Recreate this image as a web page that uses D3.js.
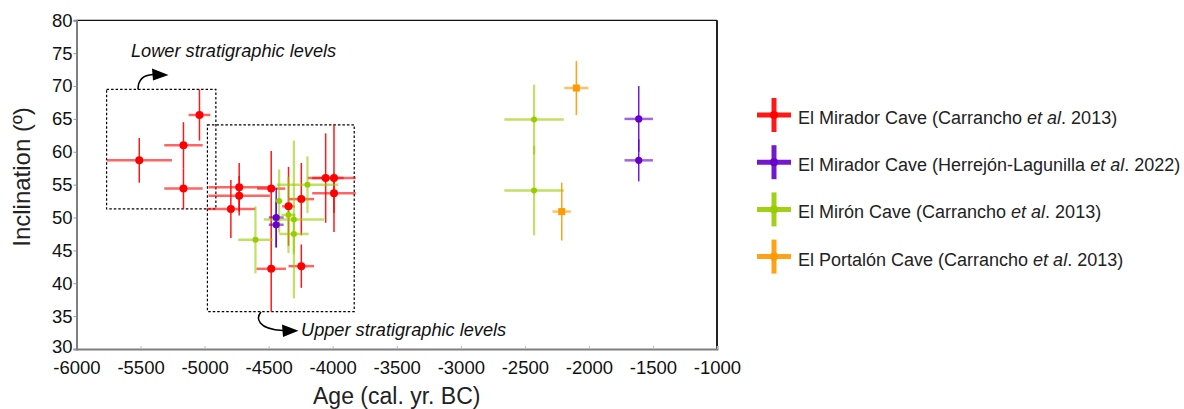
<!DOCTYPE html>
<html>
<head>
<meta charset="utf-8">
<script src="https://cdn.jsdelivr.net/npm/d3@7"></script>
<style>
body { margin:0; background:#fff; }
svg { font-family: "Liberation Sans", Arial, sans-serif; }
</style>
</head>
<body>
<svg id="chart"></svg>
<script>
// each row: [age, ageErr, inclination, inclinationErr]
var miradorCarrancho = [
    [-5510, 255, 58.7, 3.4],
    [-5040, 85, 65.6, 3.9],
    [-5165, 150, 61.0, 3.5],
    [-5165, 150, 54.4, 3.1],
    [-4730, 240, 54.6, 3.7],
    [-4730, 240, 53.3, 3.0],
    [-4795, 190, 51.3, 4.4],
    [-4480, 110, 54.4, 5.7],
    [-4480, 115, 42.2, 6.5],
    [-4345, 50, 51.7, 6.0],
    [-4245, 100, 52.8, 5.5],
    [-4245, 100, 42.6, 3.3],
    [-4055, 140, 56.0, 6.8],
    [-3990, 170, 56.0, 8.2],
    [-3990, 170, 53.7, 3.0]
];
var miradorHerrejon = [
    [-1611, 111, 65.0, 5.0],
    [-1611, 111, 58.7, 3.2],
    [-4441, 58, 50.0, 4.5],
    [-4441, 58, 48.9, 3.5]
];
var mironCarrancho = [
    [-4197, 240, 55.0, 4.3],
    [-4418, 25, 52.5, 4.8],
    [-4345, 55, 50.4, 5.8],
    [-4303, 235, 49.7, 12.0],
    [-4303, 115, 47.5, 3.0],
    [-4603, 135, 46.6, 5.1],
    [-2428, 232, 64.9, 5.3],
    [-2428, 232, 54.1, 6.8]
];
var portalonCarrancho = [
    [-2098, 95, 69.7, 4.1],
    [-2212, 72, 50.9, 4.4]
];

var seriesNames = [
    ["El Mirador Cave (Carrancho ", "et al", ". 2013)"],
    ["El Mirador Cave (Herrejón-Lagunilla ", "et al", ". 2022)"],
    ["El Mirón Cave (Carrancho ", "et al", ". 2013)"],
    ["El Portalón Cave (Carrancho ", "et al", ". 2013)"]
];
var seriesColors = ["#ff0000", "#6600cc", "#99cc00", "#ff9900"];
var seriesData = [miradorCarrancho, miradorHerrejon, mironCarrancho, portalonCarrancho];

var xTicks = [-6000, -5500, -5000, -4500, -4000, -3500, -3000, -2500, -2000, -1500, -1000];
var yTicks = [30, 35, 40, 45, 50, 55, 60, 65, 70, 75, 80];

// dashed boxes: [ageMin, ageMax, incMin, incMax]
var lowerBox = [-5765, -4912, 51.3, 69.5];
var upperBox = [-4978, -3832, 35.7, 64.1];

var width = 1184, height = 409;
var svg = d3.select("#chart").attr("width", width).attr("height", height);

var xScale = d3.scaleLinear().domain([-6000, -1000]).range([76.5, 717]);
var yScale = d3.scaleLinear().domain([30, 80]).range([349, 20.3]);

// frame
svg.append("line")
    .attr("x1", xScale(-6000)).attr("x2", xScale(-1000))
    .attr("y1", yScale(80)).attr("y2", yScale(80))
    .attr("stroke", "#111").attr("stroke-width", 1.2);
svg.append("line")
    .attr("x1", xScale(-1000)).attr("x2", xScale(-1000))
    .attr("y1", yScale(80)).attr("y2", yScale(30))
    .attr("stroke", "#222").attr("stroke-width", 2);

var plainFormat = function(d) { return String(d); };

var xAxis = svg.append("g")
    .attr("transform", "translate(0," + yScale(30) + ")")
    .call(d3.axisBottom(xScale).tickValues(xTicks).tickSize(-3).tickPadding(12).tickFormat(plainFormat));
xAxis.select(".domain").attr("stroke", "#7f7f7f").attr("stroke-width", 2);
xAxis.selectAll(".tick line").attr("stroke", "#bbb");
xAxis.selectAll("text").attr("font-size", 18.5).attr("fill", "#111")
    .attr("font-family", "Liberation Sans, Arial, sans-serif");

var yAxis = svg.append("g")
    .attr("transform", "translate(" + xScale(-6000) + ",0)")
    .call(d3.axisLeft(yScale).tickValues(yTicks).tickSize(3).tickPadding(1).tickFormat(plainFormat));
yAxis.select(".domain").attr("stroke", "#7f7f7f").attr("stroke-width", 2);
yAxis.selectAll(".tick line").attr("stroke", "#999");
yAxis.selectAll("text").attr("font-size", 18.5).attr("fill", "#111")
    .attr("font-family", "Liberation Sans, Arial, sans-serif");
// lift the lowest label a little so it clears the -6000 below it
yAxis.selectAll(".tick").filter(function(d) { return d == 30; })
    .select("text").attr("dy", "0.2em");

// axis titles
svg.append("text")
    .text("Age (cal. yr. BC)")
    .attr("x", (xScale(-6000) + xScale(-1000)) / 2)
    .attr("y", 404)
    .attr("text-anchor", "middle")
    .attr("font-size", 23)
    .attr("fill", "#222");

svg.append("text")
    .text("Inclination (º)")
    .attr("transform", "translate(30,177) rotate(-90)")
    .attr("text-anchor", "middle")
    .attr("font-size", 24)
    .attr("fill", "#222");

// dashed boxes
[lowerBox, upperBox].forEach(function(b) {
    svg.append("rect")
        .attr("x", xScale(b[0]))
        .attr("y", yScale(b[3]))
        .attr("width", xScale(b[1]) - xScale(b[0]))
        .attr("height", yScale(b[2]) - yScale(b[3]))
        .attr("fill", "none")
        .attr("stroke", "#000")
        .attr("stroke-width", 1.2)
        .attr("stroke-dasharray", "2.5,2");
});

// error bars and points
var plot = svg.append("g");
seriesData.forEach(function(data, i) {
    var color = seriesColors[i];
    var g = plot.append("g");
    g.selectAll(".hbar").data(data).enter().append("line")
        .attr("x1", function(d) { return xScale(d[0] - d[1]); })
        .attr("x2", function(d) { return xScale(d[0] + d[1]); })
        .attr("y1", function(d) { return yScale(d[2]); })
        .attr("y2", function(d) { return yScale(d[2]); })
        .attr("stroke", color).attr("stroke-width", 2.5).attr("opacity", 0.6);
    g.selectAll(".vbar").data(data).enter().append("line")
        .attr("x1", function(d) { return xScale(d[0]); })
        .attr("x2", function(d) { return xScale(d[0]); })
        .attr("y1", function(d) { return yScale(d[2] - d[3]); })
        .attr("y2", function(d) { return yScale(d[2] + d[3]); })
        .attr("stroke", color).attr("stroke-width", i == 2 ? 2.2 : 1.5)
        .attr("opacity", i == 2 ? 0.6 : 0.9);
});
seriesData.forEach(function(data, i) {
    var color = seriesColors[i];
    if (i == 3) {
        plot.selectAll(".sq").data(data).enter().append("rect")
            .attr("x", function(d) { return xScale(d[0]) - 3.5; })
            .attr("y", function(d) { return yScale(d[2]) - 3.5; })
            .attr("width", 7).attr("height", 7)
            .attr("fill", color);
    } else {
        plot.append("g").selectAll("circle").data(data).enter().append("circle")
            .attr("cx", function(d) { return xScale(d[0]); })
            .attr("cy", function(d) { return yScale(d[2]); })
            .attr("r", i == 0 ? 4 : (i == 1 ? 3.6 : 3))
            .attr("fill", color);
    }
});

// annotations
svg.append("path")
    .attr("d", "M138,89.5 C138,80 143,75 153,74.5")
    .attr("fill", "none").attr("stroke", "#000").attr("stroke-width", 1.5);
svg.append("path")
    .attr("d", "M152,68.5 L168.5,75 L153,80.5 Z").attr("fill", "#000");
svg.append("text")
    .text("Lower stratigraphic levels")
    .attr("x", 131).attr("y", 57)
    .attr("font-size", 18.2).attr("font-style", "italic").attr("fill", "#111");

svg.append("path")
    .attr("d", "M261,312 C256,318 257,329 283,330.5")
    .attr("fill", "none").attr("stroke", "#000").attr("stroke-width", 1.5);
svg.append("path")
    .attr("d", "M282,324.5 L298.5,330.8 L283,337 Z").attr("fill", "#000");
svg.append("text")
    .text("Upper stratigraphic levels")
    .attr("x", 301).attr("y", 336)
    .attr("font-size", 18.2).attr("font-style", "italic").attr("fill", "#111");

// legend
var legend = svg.append("g").attr("transform", "translate(774,115)");
var entries = legend.selectAll("g").data(seriesNames).enter().append("g")
    .attr("transform", function(d, i) { return "translate(0," + (i * 47.2) + ")"; });
entries.append("line")
    .attr("x1", -17).attr("x2", 17).attr("y1", 0).attr("y2", 0)
    .attr("stroke", function(d, i) { return seriesColors[i]; })
    .attr("stroke-width", 5).attr("opacity", 0.9);
entries.append("line")
    .attr("x1", 0).attr("x2", 0).attr("y1", -17).attr("y2", 17)
    .attr("stroke", function(d, i) { return seriesColors[i]; })
    .attr("stroke-width", 5).attr("opacity", 0.9);
entries.append("circle")
    .attr("r", 4)
    .attr("fill", function(d, i) { return seriesColors[i]; });
var texts = entries.append("text")
    .attr("x", 24).attr("y", 9)
    .attr("font-size", 18).attr("fill", "#222");
texts.append("tspan").text(function(d) { return d[0]; });
texts.append("tspan").attr("font-style", "italic").text(function(d) { return d[1]; });
texts.append("tspan").text(function(d) { return d[2]; });
</script>
</body>
</html>
